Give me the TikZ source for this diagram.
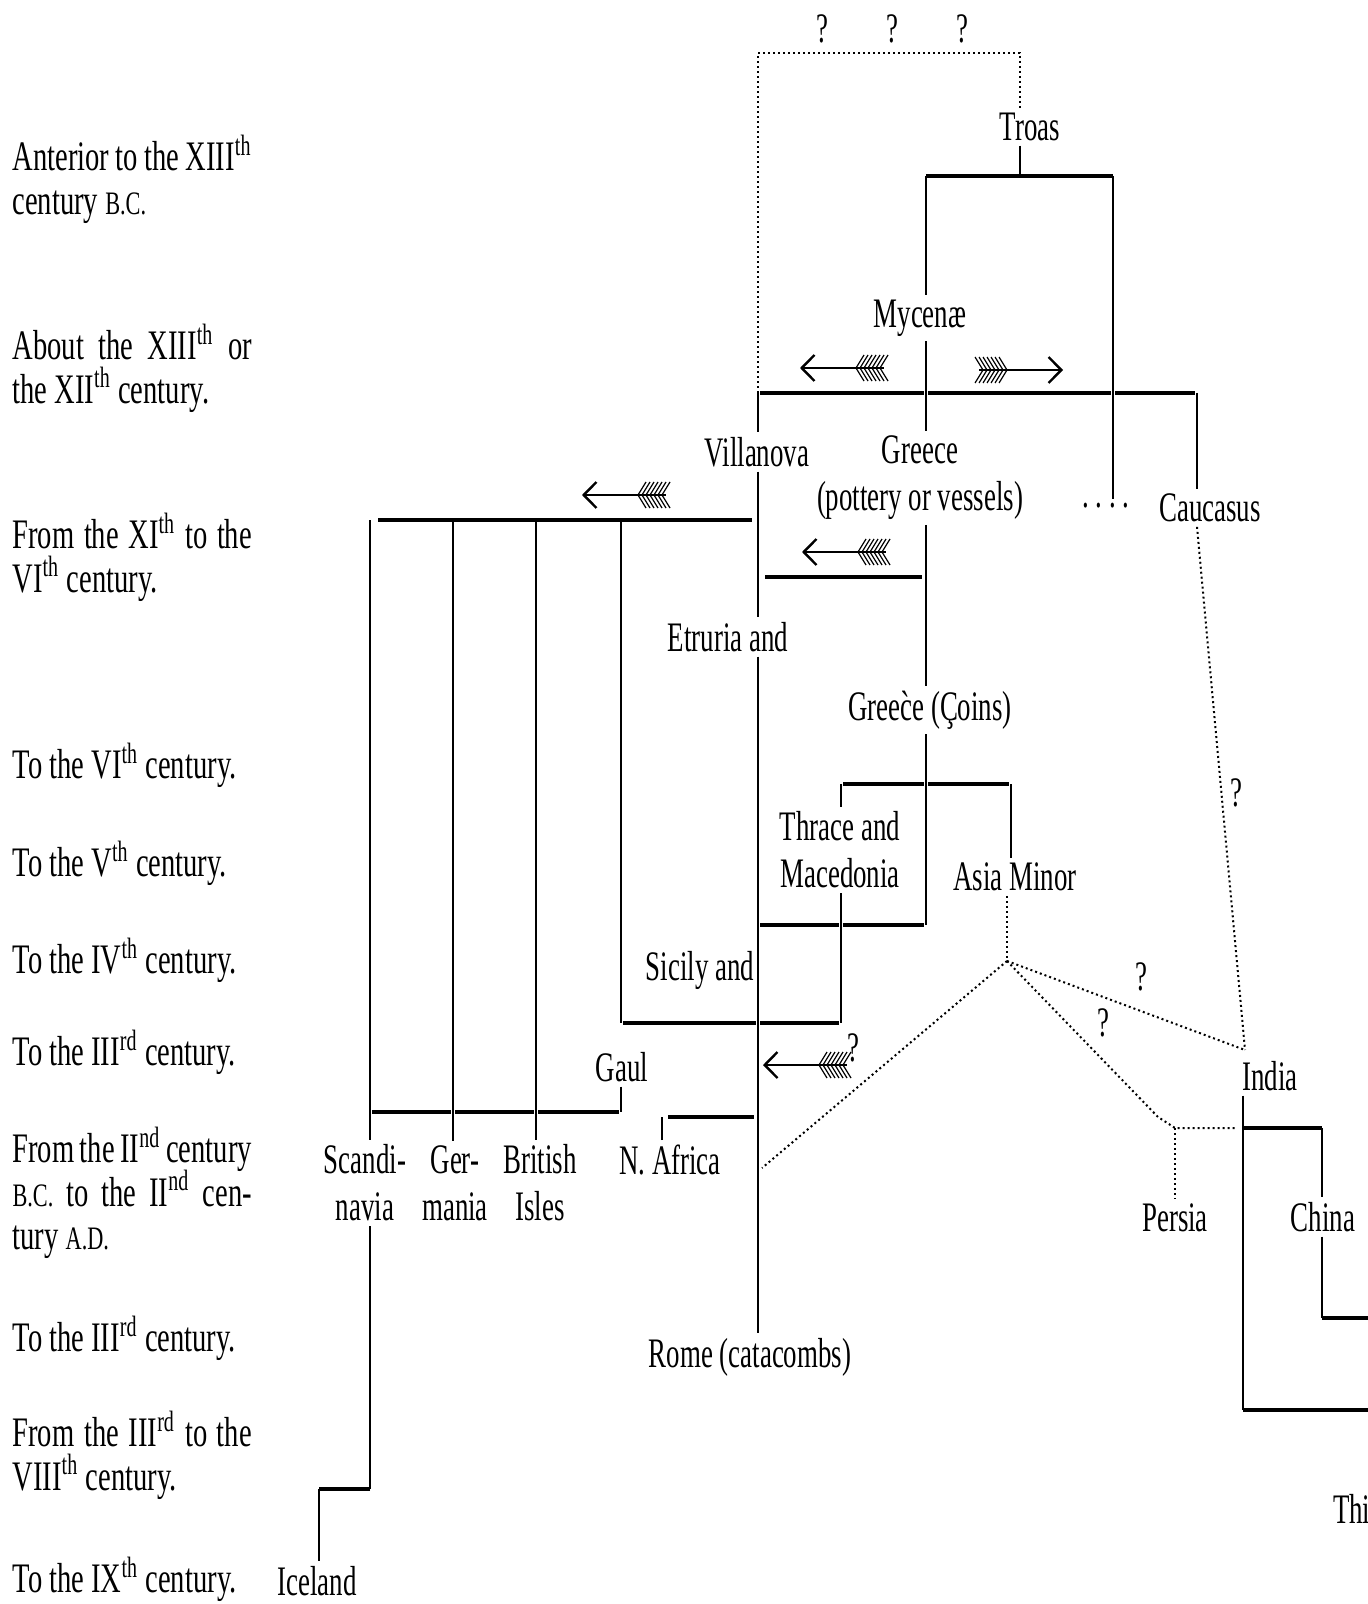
\documentclass[tikz,border=0pt]{standalone}
\usepackage{fontspec}
\setmainfont{Liberation Serif}
\usetikzlibrary{arrows.meta, positioning}

\newcommand{\smallcap}[1]{{\scalebox{0.78}{#1}}}
\newcommand{\supx}[1]{\smash{\textsuperscript{#1}}}
\newcommand{\thsup}{\supx{th}}

\tikzset{
  place/.style={font=\fontsize{10.5}{11.8}\selectfont, xscale=0.64, inner sep=1pt, align=center},
  period/.style={font=\fontsize{10.5}{10.8}\selectfont, xscale=0.68, inner sep=0pt,
    anchor=north west, text width=88pt, align=justify},
  stem/.style={line width=0.4pt},
  bar/.style={line width=0.85pt},
  barseg/.style={bar, shorten <=0.6pt, shorten >=0.6pt},
  dotline/.style={line width=0.5pt, dash pattern=on 0.5pt off 0.75pt},
  fletch/.pic={
    \draw[line width=0.6pt, {Straight Barb[length=3.2pt,width=6.5pt]}-] (0,0) -- (84,0);
    \foreach \f in {56,60,...,80}
      \draw[line width=0.3pt] (\f,0) -- ++(8,-13) (\f,0) -- ++(8,13);
  }
}

\begin{document}
\begin{tikzpicture}[x=0.25pt, y=-0.25pt]
    \path[use as bounding box, fill=white] (0,0) rectangle (1368,1604);

    % Periods on the left
    \node[period] (ant) at (12,141) {Anterior to the XIII\thsup\linebreak century \smallcap{B.C.}};
    \node[period] (about) at (12,330) {About the XIII\thsup{} or\linebreak the XII\thsup{} century.};
    \node[period] (fromxi) at (12,519) {From the XI\thsup{} to the\linebreak VI\thsup{} century.};
    \node[period] (tovi) at (12,749) {To the VI\thsup{} century.};
    \node[period] (tov) at (12,847) {To the V\thsup{} century.};
    \node[period] (toiv) at (12,944) {To the IV\thsup{} century.};
    \node[period] (toiii) at (12,1036) {To the III\supx{rd} century.};
    \node[period] (fromii) at (12,1133) {From the II\supx{nd} century\linebreak \smallcap{B.C.} to the II\supx{nd} cen-\linebreak tury \smallcap{A.D.}};
    \node[period] (toiiib) at (12,1322) {To the III\supx{rd} century.};
    \node[period] (fromiii) at (12,1417) {From the III\supx{rd} to the\linebreak VIII\thsup{} century.};
    \node[period] (toix) at (12,1563) {To the IX\thsup{} century.};

    % Places
    \node[place] (troas) at (1030,127) {Troas};
    \node[place] (myc) at (920,318) {Mycenæ};
    \node[place] (vill) at (757,452) {Villanova};
    \node[place] (grp) at (920,478) {Greece\\(pottery or vessels)};
    \node[place] (dots) at (1106,506) {.\ .\ .\ .};
    \node[place] (cauc) at (1210,508) {Caucasus};
    \node[place] (etr) at (728,637) {Etruria and};
    \node[place] (grc) at (930,710) {Gree\`{c}e (\c{C}oins)};
    \node[place] (thr) at (840,850) {Thrace and\\Macedonia};
    \node[place] (asia) at (1015,877) {Asia Minor};
    \node[place] (sic) at (700,970) {Sicily and};
    \node[place] (gaul) at (622,1067) {Gaul};
    \node[place] (scand) at (365,1183) {Scandi-\\navia};
    \node[place] (germ) at (455,1183) {Ger-\\mania};
    \node[place] (brit) at (540,1183) {British\\Isles};
    \node[place] (afr) at (670,1160) {N. Africa};
    \node[place] (rome) at (750,1357) {Rome (catacombs)};
    \node[place] (iceland) at (317,1581) {Iceland};
    \node[place] (india) at (1270,1076) {India};
    \node[place] (persia) at (1175,1218) {Persia};
    \node[place] (china) at (1323,1217) {China};
    \node[place, anchor=west] (thi) at (1330,1509) {Thi};

    % Question marks
    \node[place] (q1) at (822,29) {?};
    \node[place] (q2) at (892,29) {?};
    \node[place] (q3) at (962,29) {?};
    \node[place] (q4) at (853,1048) {?};
    \node[place] (q5) at (1236,793) {?};
    \node[place] (q6) at (1141,977) {?};
    \node[place] (q7) at (1103,1023) {?};

    % Stems (x) and bars (y)
    \coordinate (vstem) at (758,0);
    \coordinate (gstem) at (926,0);
    \coordinate (tstem) at (1020,0);
    \coordinate (rstem) at (1113,0);
    \coordinate (cstem) at (1197,0);
    \coordinate (thstem) at (841,0);
    \coordinate (astem) at (1011,0);
    \coordinate (gastem) at (621,0);
    \coordinate (scstem) at (370,0);
    \coordinate (gestem) at (453,0);
    \coordinate (brstem) at (536,0);
    \coordinate (afstem) at (662,0);
    \coordinate (instem) at (1243,0);
    \coordinate (chstem) at (1322,0);
    \coordinate (pestem) at (1175,0);
    \coordinate (icstem) at (319,0);
    \coordinate (edge) at (1368,0);
    \coordinate (topdot) at (0,53);
    \coordinate (troasbar) at (0,176);
    \coordinate (mycbar) at (0,393);
    \coordinate (etrbar) at (0,520);
    \coordinate (grbar) at (0,577);
    \coordinate (thrbar) at (0,784);
    \coordinate (tmbar) at (0,925);
    \coordinate (sicbar) at (0,1023);
    \coordinate (gaulbar) at (0,1112);
    \coordinate (afrbar) at (0,1117);
    \coordinate (indbar) at (0,1128);
    \coordinate (chbar) at (0,1318);
    \coordinate (indbot) at (0,1410);
    \coordinate (icbar) at (0,1489);
    \coordinate (apex) at (1007,961);
    \coordinate (afrtip) at (762,1168);
    \coordinate (indtop) at (1245,1050);
    \coordinate (pekink) at (1158,1117);

    % Troas and the dotted link above
    \draw[dotline] (vstem |- mycbar) -- (vstem |- topdot) -- (tstem |- topdot) -- (troas.north -| tstem);
    \draw[stem] (troas.south -| tstem) -- (tstem |- troasbar);
    \draw[bar] (gstem |- troasbar) -- (rstem |- troasbar);
    \draw[stem] (gstem |- troasbar) -- (myc.north -| gstem);
    \draw[stem] (rstem |- troasbar) -- (dots.north -| rstem);

    % Mycenae
    \draw[stem] (myc.south -| gstem) -- (grp.north -| gstem);
    \draw[barseg] (vstem |- mycbar) -- (gstem |- mycbar);
    \draw[barseg] (gstem |- mycbar) -- (rstem |- mycbar);
    \draw[barseg] (rstem |- mycbar) -- (cstem |- mycbar);
    \draw[stem] (vstem |- mycbar) -- (vill.north -| vstem);
    \draw[stem] (cstem |- mycbar) -- (cauc.north -| cstem);
    \pic at (800,368) {fletch};
    \pic[xscale=-1] at (1063,370) {fletch};

    % Villanova
    \draw[stem] (vill.south -| vstem) -- (etr.north -| vstem);
    \draw[bar, shorten <=2pt, shorten >=1.5pt] (scstem |- etrbar) -- (vstem |- etrbar);
    \draw[stem] (scstem |- etrbar) -- (scand.north -| scstem);
    \draw[stem] (gestem |- etrbar) -- (germ.north -| gestem);
    \draw[stem] (brstem |- etrbar) -- (brit.north -| brstem);
    \draw[stem] (gastem |- etrbar) -- (gastem |- sicbar);
    \pic at (582,495) {fletch};

    % Greece (pottery)
    \draw[stem] (grp.south -| gstem) -- (grc.north -| gstem);
    \draw[bar, shorten <=1.8pt, shorten >=1pt] (vstem |- grbar) -- (gstem |- grbar);
    \pic at (802,552) {fletch};

    % Etruria down to Rome
    \draw[stem] (etr.south -| vstem) -- (rome.north -| vstem);

    % Greece (coins)
    \draw[stem] (grc.south -| gstem) -- (gstem |- tmbar);
    \draw[barseg] (thstem |- thrbar) -- (gstem |- thrbar);
    \draw[stem] (thstem |- thrbar) -- (thr.north -| thstem);
    \draw[barseg] (gstem |- thrbar) -- (astem |- thrbar);
    \draw[stem] (astem |- thrbar) -- (asia.north -| astem);

    % Thrace and Macedonia
    \draw[barseg] (vstem |- tmbar) -- (thstem |- tmbar);
    \draw[barseg] (thstem |- tmbar) -- (gstem |- tmbar);
    \draw[stem] (thr.south -| thstem) -- (thstem |- sicbar);
    \draw[barseg] (gastem |- sicbar) -- (vstem |- sicbar);
    \draw[barseg] (vstem |- sicbar) -- (thstem |- sicbar);

    % Gaul
    \draw[stem] (gaul.south -| gastem) -- (gastem |- gaulbar);
    \draw[barseg] (scstem |- gaulbar) -- (gestem |- gaulbar);
    \draw[barseg] (gestem |- gaulbar) -- (brstem |- gaulbar);
    \draw[barseg] (brstem |- gaulbar) -- (gastem |- gaulbar);
    \pic at (763,1065) {fletch};

    % N. Africa
    \draw[stem] (afr.north -| afstem) -- (afstem |- afrbar);
    \draw[bar, shorten <=1.5pt, shorten >=1pt] (afstem |- afrbar) -- (vstem |- afrbar);

    % Scandinavia to Iceland
    \draw[stem] (scand.south -| scstem) -- (scstem |- icbar);
    \draw[bar] (scstem |- icbar) -- (icstem |- icbar);
    \draw[stem] (icstem |- icbar) -- (iceland.north -| icstem);

    % Asia Minor, uncertain links
    \draw[dotline] (asia.south -| apex) -- (apex);
    \draw[dotline] (apex) -- (afrtip);
    \draw[dotline] (apex) -- (indtop);
    \draw[dotline] (apex) -- (pekink) -- (pestem |- indbar) -- ([xshift=-2pt]instem |- indbar);
    \draw[dotline] (pestem |- indbar) -- (persia.north -| pestem);
    \draw[dotline] (cauc.south -| cstem) -- (indtop);

    % India and China
    \draw[stem] (india.south -| instem) -- (instem |- indbot);
    \draw[bar] (instem |- indbot) -- (edge |- indbot);
    \draw[bar] (instem |- indbar) -- (chstem |- indbar);
    \draw[stem] (chstem |- indbar) -- (china.north -| chstem);
    \draw[stem] (china.south -| chstem) -- (chstem |- chbar);
    \draw[bar] (chstem |- chbar) -- (edge |- chbar);
\end{tikzpicture}
\end{document}
